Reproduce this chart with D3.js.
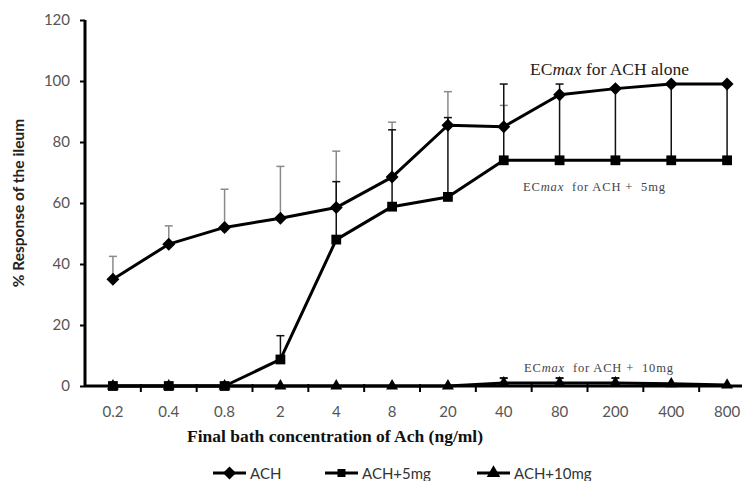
<!DOCTYPE html>
<html>
<head>
<meta charset="utf-8">
<script src="https://cdn.jsdelivr.net/npm/d3@7"></script>
<style>
  body { margin: 0; background: #fff; }
  svg { display: block; }
</style>
</head>
<body>
<svg id="chart" width="742" height="481"></svg>
<script>
'use strict';

// concentrations of Ach (ng/ml)
var concentrations = ['0.2', '0.4', '0.8', '2', '4', '8', '20', '40', '80', '200', '400', '800'];
var yTicks = [0, 20, 40, 60, 80, 100, 120];

// % response
var achValues  = [35, 46.5, 52, 55, 58.5, 68.5, 85.5, 85, 95.5, 97.5, 99, 99];
var achErrTop  = [42.5, 52.5, 64.5, 72, 77, 86.5, 96.5, 92, null, null, null, null];
var mg5Values  = [0, 0, 0, 8.7, 48, 58.8, 62, 74, 74, 74, 74, 74];
var mg5ErrTop  = [null, null, null, 16.5, 67, 84, 88, 99, 99, 97.5, 99, 99];
var mg10Values = [0, 0, 0, 0, 0, 0, 0, 1, 1, 1, 0.7, 0.3];
var mg10ErrTop = [null, null, null, null, null, null, null, 2.6, 2.6, 2.6, null, null];

var seriesNames = ['ACH', 'ACH+5mg', 'ACH+10mg'];

var svg = d3.select('#chart');
var plotLeft = 85, plotRight = 755, plotTop = 20, plotBottom = 386;

var x = d3.scaleBand().domain(concentrations).range([plotLeft, plotRight]).padding(0);
var y = d3.scaleLinear().domain([0, 120]).range([plotBottom, plotTop]);
var cx = function(c) { return x(c) + x.bandwidth() / 2; };

var sans = 'Lato, "Open Sans", sans-serif';
var serif = '"Liberation Serif", "DejaVu Serif", serif';

// y axis
var yAxis = svg.append('g')
	.attr('transform', 'translate(' + plotLeft + ',0)')
	.call(d3.axisLeft(y).tickValues(yTicks).tickSize(5).tickPadding(10));
yAxis.select('.domain').attr('stroke', '#000').attr('stroke-width', 3)
	.attr('d', 'M0,' + plotTop + 'V' + plotBottom);
yAxis.selectAll('.tick line').attr('stroke', '#000').attr('stroke-width', 2);
yAxis.selectAll('.tick text')
	.attr('font-family', sans).attr('font-size', 15).attr('fill', '#555');

// x axis: labels at band centres, ticks at band edges
var xAxis = svg.append('g')
	.attr('transform', 'translate(0,' + plotBottom + ')')
	.call(d3.axisBottom(x).tickSize(0).tickPadding(20));
xAxis.select('.domain').remove();
xAxis.selectAll('.tick text')
	.attr('font-family', sans).attr('font-size', 15).attr('fill', '#555');
svg.append('g').selectAll('line.edge')
	.data(concentrations.slice(1))
	.enter().append('line')
		.attr('class', 'edge')
		.attr('x1', function(d) { return x(d); })
		.attr('x2', function(d) { return x(d); })
		.attr('y1', plotBottom - 2)
		.attr('y2', plotBottom + 6)
		.attr('stroke', '#000')
		.attr('stroke-width', 2);
svg.append('line')
	.attr('x1', plotLeft).attr('x2', plotRight)
	.attr('y1', plotBottom).attr('y2', plotBottom)
	.attr('stroke', '#000').attr('stroke-width', 3);

// axis titles
svg.append('text')
	.attr('x', 187).attr('y', 442)
	.attr('font-family', serif).attr('font-weight', 'bold').attr('font-size', 17.5)
	.attr('fill', '#111')
	.text('Final bath concentration of Ach (ng/ml)');
svg.append('text')
	.attr('transform', 'translate(24,203) rotate(-90)')
	.attr('text-anchor', 'middle')
	.attr('font-family', sans).attr('font-weight', 'bold').attr('font-size', 15.5)
	.attr('fill', '#222')
	.text('% Response of the ileum');

function errorBars(values, tops, colour, width) {
	var g = svg.append('g');
	var rows = concentrations.map(function(c, i) {
		return {c: c, v: values[i], t: tops[i]};
	}).filter(function(d) { return d.t !== null; });
	g.selectAll('line.bar').data(rows).enter().append('line')
		.attr('x1', function(d) { return cx(d.c); })
		.attr('x2', function(d) { return cx(d.c); })
		.attr('y1', function(d) { return y(d.v); })
		.attr('y2', function(d) { return y(d.t); })
		.attr('stroke', colour).attr('stroke-width', width);
	g.selectAll('line.cap').data(rows).enter().append('line')
		.attr('x1', function(d) { return cx(d.c) - 4; })
		.attr('x2', function(d) { return cx(d.c) + 4; })
		.attr('y1', function(d) { return y(d.t); })
		.attr('y2', function(d) { return y(d.t); })
		.attr('stroke', colour).attr('stroke-width', width);
}

function series(values, symbol, size, rotate) {
	var line = d3.line()
		.x(function(d, i) { return cx(concentrations[i]); })
		.y(function(d) { return y(d); });
	svg.append('path')
		.datum(values)
		.attr('d', line)
		.attr('fill', 'none')
		.attr('stroke', '#000')
		.attr('stroke-width', 3)
		.attr('stroke-linejoin', 'round');
	svg.append('g').selectAll('path')
		.data(values)
		.enter().append('path')
			.attr('d', d3.symbol().type(symbol).size(size))
			.attr('transform', function(d, i) {
				return 'translate(' + cx(concentrations[i]) + ',' + y(d) + ') rotate(' + rotate + ')';
			})
			.attr('fill', '#000');
}

errorBars(achValues, achErrTop, '#8a8a8a', 1.5);
errorBars(mg5Values, mg5ErrTop, '#111', 1.5);
errorBars(mg10Values, mg10ErrTop, '#111', 2);

series(achValues, d3.symbolSquare, 84, 45);
series(mg5Values, d3.symbolSquare, 96, 0);
series(mg10Values, d3.symbolTriangle, 62, 0);

// annotations
svg.append('text')
	.attr('x', 530).attr('y', 75)
	.attr('font-family', serif).attr('font-size', 17.5).attr('fill', '#222')
	.html('EC<tspan font-style="italic">max</tspan> for ACH alone');
svg.append('text')
	.attr('x', 523).attr('y', 191)
	.attr('font-family', serif).attr('font-size', 12.5).attr('fill', '#444')
	.attr('xml:space', 'preserve')
	.attr('textLength', 142).attr('lengthAdjust', 'spacing')
	.html('EC<tspan font-style="italic">max</tspan>  for ACH +  5mg');
svg.append('text')
	.attr('x', 524).attr('y', 372)
	.attr('font-family', serif).attr('font-size', 12.5).attr('fill', '#444')
	.attr('xml:space', 'preserve')
	.attr('textLength', 149).attr('lengthAdjust', 'spacing')
	.html('EC<tspan font-style="italic">max</tspan>  for ACH +  10mg');

// legend
var legendX = [213, 325, 477];
var legendSym = [
	{type: d3.symbolSquare, size: 84, rotate: 45},
	{type: d3.symbolSquare, size: 64, rotate: 0},
	{type: d3.symbolTriangle, size: 80, rotate: 0}
];
var legend = svg.append('g').selectAll('g')
	.data(seriesNames)
	.enter().append('g')
		.attr('transform', function(d, i) { return 'translate(' + legendX[i] + ',473)'; });
legend.append('line')
	.attr('x1', 0).attr('x2', 33)
	.attr('stroke', '#000').attr('stroke-width', 3);
legend.append('path')
	.attr('d', function(d, i) { return d3.symbol().type(legendSym[i].type).size(legendSym[i].size)(); })
	.attr('transform', function(d, i) { return 'translate(16.5,0) rotate(' + legendSym[i].rotate + ')'; })
	.attr('fill', '#000');
legend.append('text')
	.attr('x', 37).attr('y', 5.5)
	.attr('font-family', sans).attr('font-size', 15).attr('fill', '#333')
	.text(function(d) { return d; });
</script>
</body>
</html>
